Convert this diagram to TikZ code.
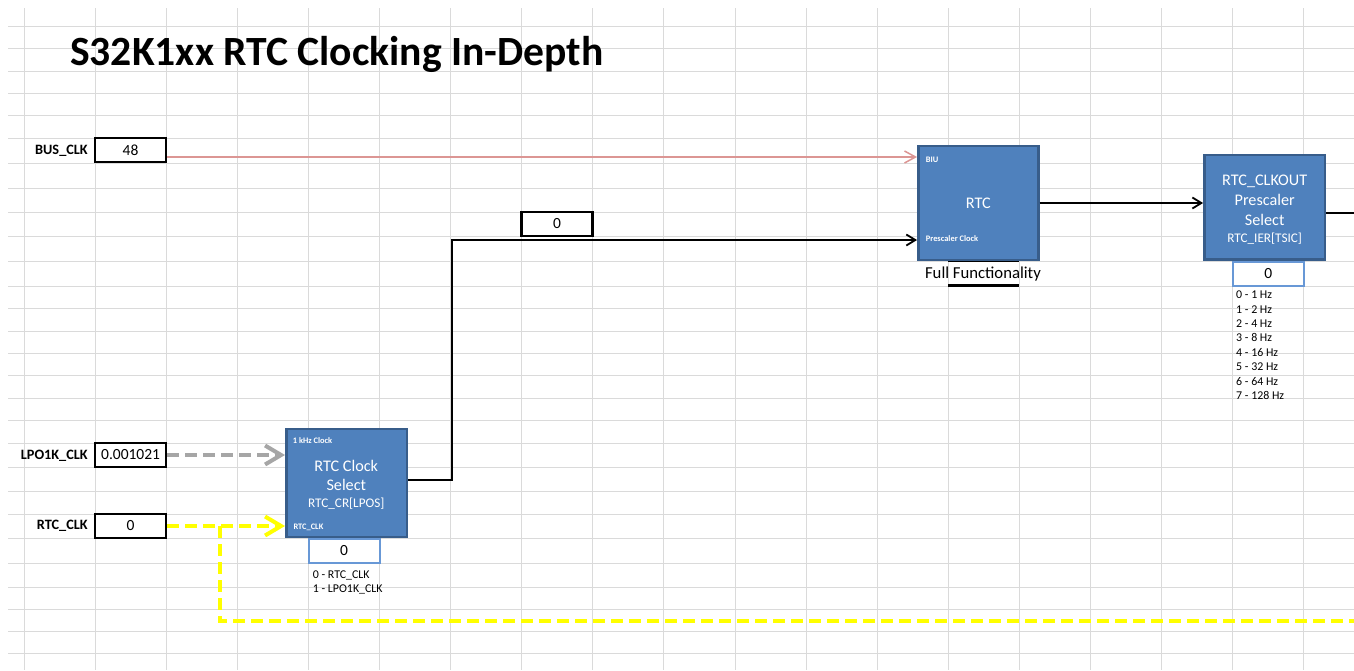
\documentclass[tikz,border=0pt]{standalone}
\usepackage{fontspec}
\setmainfont{Carlito}
\usetikzlibrary{arrows.meta,calc}
\definecolor{gridc}{RGB}{218,218,218}
\definecolor{boxfill}{RGB}{79,129,189}
\definecolor{boxedge}{RGB}{56,93,138}
\definecolor{pinkline}{RGB}{220,150,148}
\definecolor{grayline}{RGB}{166,166,166}
\definecolor{yelline}{RGB}{255,255,0}
\definecolor{selbord}{RGB}{104,152,214}
\newcommand\myfs[1]{\fontsize{#1pt}{#1pt}\selectfont}
\begin{document}
\begin{tikzpicture}[x=1pt,y=-1pt,
  gridline/.style={draw=gridc, line width=1pt},
  valbox/.style={draw=black, line width=2.5pt, fill=white, minimum width=71pt, minimum height=24pt, inner sep=0pt, font=\myfs{15.5}},
  selbox/.style={draw=selbord, line width=2pt, fill=white, minimum width=71pt, minimum height=24pt, inner sep=0pt, font=\myfs{15.5}},
  bluebox/.style={draw=boxedge, fill=boxfill, line width=2.5pt, inner sep=0pt},
  lbl/.style={font=\bfseries\myfs{14.3}, inner sep=0pt},
  intext/.style={text=white, inner sep=0pt},
  bigtxt/.style={intext, font=\myfs{16.2}, anchor=base},
  midtxt/.style={intext, font=\myfs{13.2}, anchor=base},
  tinytxt/.style={intext, font=\bfseries\myfs{8.4}, anchor=base west},
  listtxt/.style={font=\myfs{11.9}, inner sep=0pt, anchor=base west},
  pinkarr/.style={draw=pinkline, line width=1.5pt, -{Straight Barb[length=11pt,width=12pt,line width=1.5pt]}},
  blkarr/.style={draw=black, line width=1.8pt, -{Straight Barb[length=9pt,width=11pt,line width=1.8pt]}},
  blkline/.style={draw=black, line width=1.8pt},
  grayarr/.style={draw=grayline, line width=4pt, dash pattern=on 12pt off 6pt, -{Straight Barb[length=16pt,width=19pt,line width=4pt]}},
  yelarr/.style={draw=yelline, line width=4pt, dash pattern=on 12pt off 6pt, -{Straight Barb[length=16pt,width=19pt,line width=4pt]}},
  yelline/.style={draw=yelline, line width=4pt, dash pattern=on 12pt off 6pt}
]
\useasboundingbox (0,0) rectangle (1354,670);
\fill[white] (0,0) rectangle (1354,670);
% spreadsheet grid
\foreach \k in {0,...,18} \draw[gridline] ({24+71.1*\k},8) -- ({24+71.1*\k},670);
\foreach \y in {26,48,71,93,115,138,163,188,212,236,261,286,308,331,353,375,398,420,443,467,491,514,538,563,587,609,631,653}
  \draw[gridline] (8,\y) -- (1354,\y);

% title
\node[font=\bfseries\myfs{41.6}, anchor=base west, inner sep=0pt] (title) at (70,65) {S32K1xx RTC Clocking In-Depth};

% inputs
\node[valbox] (busv) at (130.6,150) {48};
\node[lbl, anchor=base east] (buslbl) at (88,154.5) {BUS\_CLK};
\node[valbox] (lpov) at (130.6,455) {0.001021};
\node[lbl, anchor=base east] (lpolbl) at (88,459.5) {LPO1K\_CLK};
\node[valbox] (rtcv) at (130.6,526) {0};
\node[lbl, anchor=base east] (rtclbl) at (88,529.5) {RTC\_CLK};
\node[valbox] (midv) at (557,224) {0};

% cell border lines under RTC
\draw[line width=2.5pt] (948.3,261) -- (1019.4,261);
\draw[line width=2.5pt] (948.3,285.5) -- (1019.4,285.5);

% blocks
\node[bluebox, minimum width=120.5pt, minimum height=108pt] (sel) at (346.5,483) {};
\node[bluebox, minimum width=120pt, minimum height=114pt] (rtc) at (978.3,203) {};
\node[bluebox, minimum width=120.7pt, minimum height=104.3pt] (clkout) at (1264.7,207.2) {};
\node[selbox] (selv) at (344,550.5) {0};
\node[selbox] (outv) at (1268.2,273.5) {0};

% texts in RTC Clock Select
\node[tinytxt] (selt1) at (292.7,443.5) {1 kHz Clock};
\node[bigtxt] (selt2) at (346.3,471) {RTC Clock};
\node[bigtxt] (selt3) at (346.3,490.5) {Select};
\node[midtxt] (selt4) at (346.3,507) {RTC\_CR[LPOS]};
\node[tinytxt] (selt5) at (293.3,529) {RTC\_CLK};

% texts in RTC
\node[tinytxt] (biu) at (925.7,162.5) {BIU};
\node[bigtxt] (rtct) at (978.3,208.5) {RTC};
\node[tinytxt] (psc) at (925.7,241) {Prescaler Clock};
\node[font=\myfs{16.7}, anchor=base, inner sep=0pt] (ff) at (983,278.3) {Full Functionality};

% texts in RTC_CLKOUT
\node[bigtxt] (co1) at (1264.7,185) {RTC\_CLKOUT};
\node[bigtxt] (co2) at (1264.7,205) {Prescaler};
\node[bigtxt] (co3) at (1264.7,225) {Select};
\node[midtxt] (co4) at (1264.7,242) {RTC\_IER[TSIC]};

% option lists
\node[listtxt] (sl0) at (312.7,578) {0 - RTC\_CLK};
\node[listtxt] (sl1) at (312.7,592) {1 - LPO1K\_CLK};
\foreach \i/\t in {0/1,1/2,2/4,3/8,4/16,5/32,6/64,7/128}
  \node[listtxt] (hz\i) at (1236,{298.7+14.43*\i}) {\i\ - \t\ Hz};

% connectors
\coordinate (ybr) at (220,526);
\coordinate (yend) at (1354,621);
\coordinate (outend) at (1354,212.7);
\draw[pinkarr] ([yshift=-7pt]busv.east) -- ([yshift=-7pt]busv.east -| rtc.west);
\draw[grayarr] (lpov.east) -- (lpov.east -| sel.west);
\draw[yelarr] (rtcv.east) -- (rtcv.east -| sel.west);
\draw[yelline] (ybr) |- (yend);
\draw[blkarr] ([yshift=3pt]sel.east) -- ++(44,0) |- ([yshift=-37pt]rtc.west);
\draw[blkarr] (rtc.east) -- (rtc.east -| clkout.west);
\draw[blkline] (clkout.east |- outend) -- (outend);
\end{tikzpicture}
\end{document}
